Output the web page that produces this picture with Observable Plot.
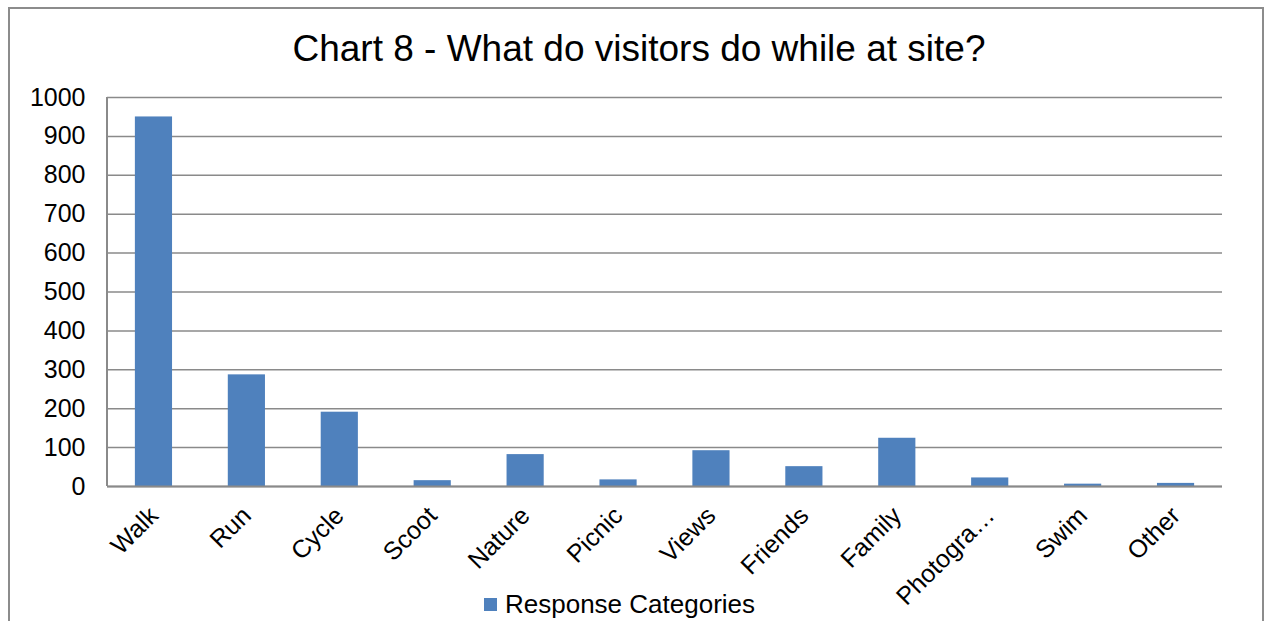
<!DOCTYPE html>
<html>
<head>
<meta charset="utf-8">
<script src="https://cdn.jsdelivr.net/npm/d3@7"></script>
<script src="https://cdn.jsdelivr.net/npm/@observablehq/plot@0.6"></script>
<style>
  html, body { margin: 0; padding: 0; background: #fff; overflow: hidden; }
  #wrap { position: relative; width: 1269px; height: 621px; font-family: "Liberation Sans", Arial, sans-serif; }
  #frame { position: absolute; left: 8px; top: 7px; width: 1256px; height: 640px; border: 2px solid #8c8c8c; box-sizing: border-box; }
  #title { position: absolute; left: 0; width: 1278px; top: 27px; text-align: center; font-size: 37px; line-height: 44px; color: #000; }
  #chart { position: absolute; left: 0; top: 0; }
  #legend { position: absolute; left: 484px; top: 589px; font-size: 26px; line-height: 30px; color: #000; display: flex; align-items: center; }
  #legend .sw { width: 13px; height: 13px; background: #4F81BD; margin-right: 8px; }
</style>
</head>
<body>
<div id="wrap">
  <div id="frame"></div>
  <div id="title">Chart 8 - What do visitors do while at site?</div>
  <div id="chart"></div>
  <div id="legend"><span class="sw"></span><span>Response Categories</span></div>
</div>
<script>
const categories = ["Walk", "Run", "Cycle", "Scoot", "Nature", "Picnic", "Views", "Friends", "Family", "Photogra…", "Swim", "Other"];
const values = [950, 287, 191, 15, 82, 17, 92, 51, 124, 22, 6, 8];
const yTicks = [0, 100, 200, 300, 400, 500, 600, 700, 800, 900, 1000];
const seriesName = "Response Categories";

const data = categories.map((c, i) => ({category: c, value: values[i]}));

const chart = Plot.plot({
  width: 1269,
  height: 621,
  marginLeft: 107,
  marginRight: 47,
  marginTop: 97,
  marginBottom: 135,
  style: { fontFamily: "'Liberation Sans', Arial, sans-serif", background: "transparent", overflow: "visible" },
  x: { domain: categories, paddingInner: 0.6, paddingOuter: 0.3, align: 0.5, round: false },
  y: { domain: [0, 1000] },
  marks: [
    Plot.gridY(yTicks, { stroke: "#8a8a8a", strokeOpacity: 1, strokeWidth: 1.5 }),
    Plot.barY(data, { x: "category", y: "value", fill: "#4F81BD" }),
    Plot.ruleY([0], { stroke: "#8a8a8a", strokeWidth: 2 }),
    Plot.axisY(yTicks, { tickSize: 0, tickPadding: 22, fontSize: 25, fill: "#000", label: null, tickFormat: d => String(d) }),
    Plot.axisX({ tickSize: 0, tickRotate: -45, fontSize: 25, fill: "#000", label: null, tickPadding: 25, dx: 0 })
  ]
});
// left axis line
d3.select(chart).append("line")
  .attr("x1", 107).attr("x2", 107).attr("y1", 97).attr("y2", 486)
  .attr("stroke", "#8a8a8a").attr("stroke-width", 2);
document.getElementById("chart").appendChild(chart);
</script>
</body>
</html>
